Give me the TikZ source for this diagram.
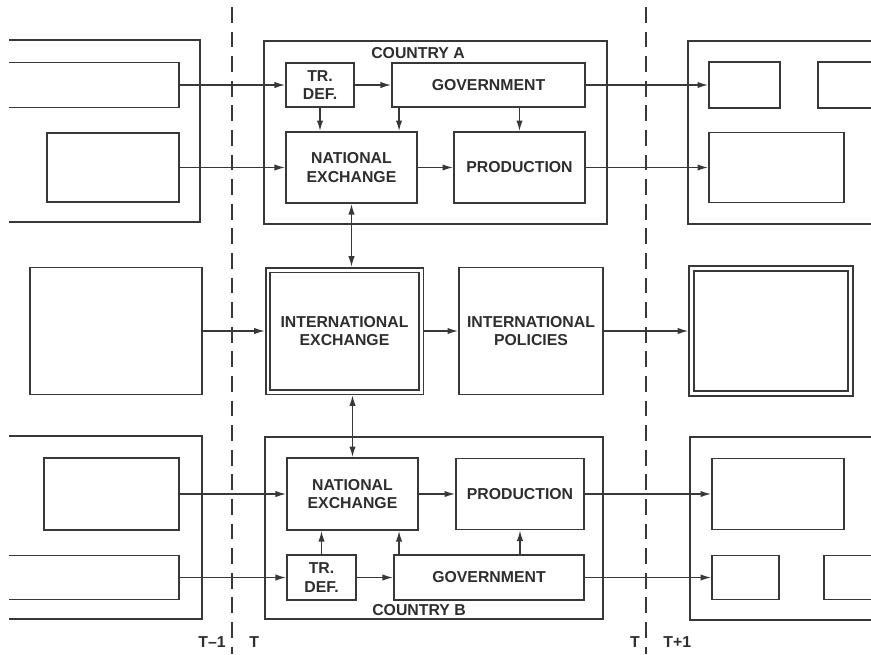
\documentclass[tikz,border=0pt]{standalone}
\usepackage{fontspec}
\setmainfont{Liberation Sans}
\usetikzlibrary{arrows.meta, positioning}
\definecolor{ink}{HTML}{383838}
\definecolor{inktext}{HTML}{2E2E2E}

\tikzset{
  blk/.style={draw=ink, line width=1.1pt, inner sep=0pt, align=center, text=inktext,
    font=\fontsize{9}{10.5}\selectfont\bfseries},
  sz/.style 2 args={minimum width=#1*0.02cm, minimum height=#2*0.02cm},
  dbl/.style={double=white, double distance=1.7pt, line width=1pt, outer sep=1.85pt},
  flow/.style={draw=ink, line width=0.75pt, ->},
  tline/.style={draw=ink, line width=0.9pt, dash pattern=on 9pt off 5pt},
  lbl/.style={text=inktext, font=\fontsize{9}{10.5}\selectfont\bfseries, inner sep=0pt},
}

\begin{document}
\begin{tikzpicture}[x=0.02cm, y=-0.02cm, >={Latex[length=6pt,width=3.6pt]}]
  \useasboundingbox[fill=white] (0,0) rectangle (871,654);
  \clip (9,0) rectangle (871,654);

  % time borders
  \foreach \tx/\before/\after in {232/T--1/T, 646/T/T+1}{
    \draw[tline] (\tx,7) -- (\tx,654);
    \node[lbl, anchor=east] (pre\tx) at (\tx-6,642) {\before};
    \node[lbl, anchor=west] (post\tx) at (\tx+17,642) {\after};
  }

  % period T-1
  \node[blk, sz={250}{182}] (lA) at (75,131) {};
  \node[blk, sz={229}{45}] (lA1) at (64.5,85) {};
  \node[blk, sz={132}{69}] (lA2) at (113,167.5) {};
  \node[blk, sz={172}{127}] (lM) at (116,331) {};
  \node[blk, sz={252}{183}] (lB) at (76,527.5) {};
  \node[blk, sz={135}{72}] (lB1) at (111.5,494) {};
  \node[blk, sz={229}{44}] (lB2) at (64.5,577.5) {};

  % period T
  \node[blk, sz={343}{183}] (cA) at (435.5,132.5) {};
  \node[lbl] (lblA) at (418,53) {COUNTRY A};
  \node[blk, sz={68}{44}] (trA) at (320,85) {TR.\\DEF.};
  \node[blk, sz={193}{44}] (govA) at (488.5,85) {GOVERNMENT};
  \node[blk, sz={131}{71}] (natA) at (351.5,167.5) {NATIONAL\\EXCHANGE};
  \node[blk, sz={131}{71}] (prodA) at (519.5,167.5) {PRODUCTION};

  \node[blk, dbl, sz={153}{122}] (intEx) at (344.5,331) {INTERNATIONAL\\EXCHANGE};
  \node[blk, sz={144}{127}] (intPol) at (531,331) {INTERNATIONAL\\POLICIES};

  \node[blk, sz={338}{182}] (cB) at (434,528) {};
  \node[lbl] (lblB) at (419,610) {COUNTRY B};
  \node[blk, sz={131}{72}] (natB) at (352.5,494) {NATIONAL\\EXCHANGE};
  \node[blk, sz={128}{71}] (prodB) at (520,494) {PRODUCTION};
  \node[blk, sz={69}{45}] (trB) at (321.5,577.5) {TR.\\DEF.};
  \node[blk, sz={190}{45}] (govB) at (489,577.5) {GOVERNMENT};

  % period T+1
  \node[blk, sz={262}{183}] (rA) at (819,132.5) {};
  \node[blk, sz={71}{46}] (rA1) at (744.5,85) {};
  \node[blk, sz={132}{46}] (rA2) at (884,85) {};
  \node[blk, sz={135}{70}] (rA3) at (776.5,167.5) {};
  \node[blk, dbl, sz={159}{125}] (rM) at (771,331) {};
  \node[blk, sz={260}{183}] (rB) at (820,528.5) {};
  \node[blk, sz={132}{71}] (rB1) at (778,494) {};
  \node[blk, sz={67}{44}] (rB2) at (745.5,577.5) {};
  \node[blk, sz={126}{44}] (rB3) at (887,577.5) {};

  % country A
  \draw[flow] (lA1) -- (trA);
  \draw[flow] (lA2) -- (natA);
  \draw[flow] (trA) -- (govA);
  \draw[flow] (trA.south) -- (trA.south |- natA.north);
  \draw[flow] ([xshift=0.16cm]govA.south west) -- ([xshift=0.16cm]govA.south west |- natA.north);
  \draw[flow] (prodA.north |- govA.south) -- (prodA.north);
  \draw[flow] (natA) -- (prodA);
  \draw[flow] (govA) -- (rA1);
  \draw[flow] (prodA) -- (rA3);

  % international level
  \draw[flow, <->] (natA.south) -- (natA.south |- intEx.north);
  \draw[flow, <->] (intEx.south -| natB.north) -- (natB.north);
  \draw[flow] (lM) -- (intEx);
  \draw[flow] (intEx) -- (intPol);
  \draw[flow] (intPol) -- (rM);

  % country B
  \draw[flow] (lB1) -- (natB);
  \draw[flow] (lB2) -- (trB);
  \draw[flow] (trB) -- (govB);
  \draw[flow] (trB.north) -- (trB.north |- natB.south);
  \draw[flow] ([xshift=0.12cm]govB.north west) -- ([xshift=0.12cm]govB.north west |- natB.south);
  \draw[flow] (prodB.south |- govB.north) -- (prodB.south);
  \draw[flow] (natB) -- (prodB);
  \draw[flow] (prodB) -- (rB1);
  \draw[flow] (govB) -- (rB2);
\end{tikzpicture}
\end{document}
